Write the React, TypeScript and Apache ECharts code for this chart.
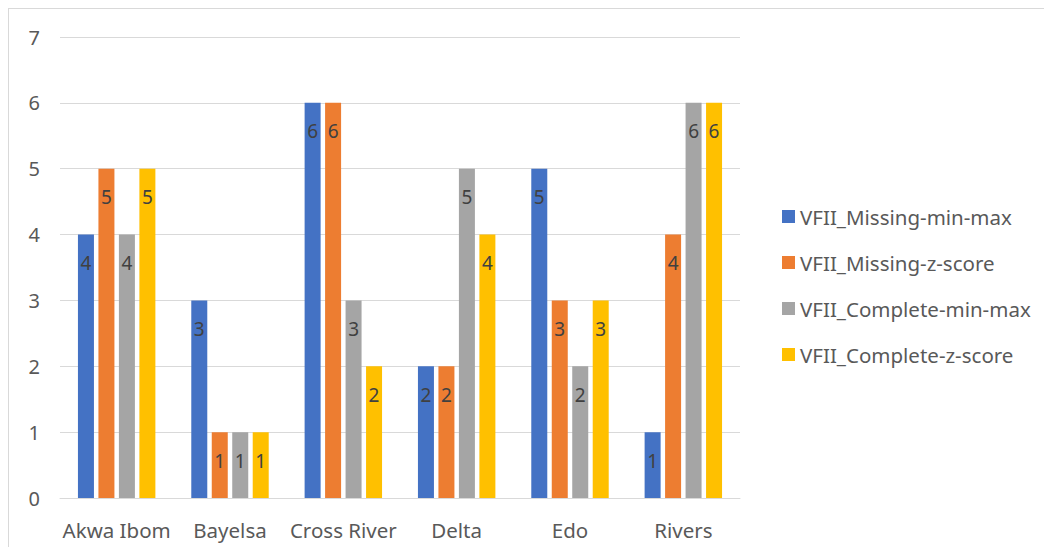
import React, { useEffect, useRef } from "react";
import * as echarts from "echarts";

const categories = ["Akwa Ibom", "Bayelsa", "Cross River", "Delta", "Edo", "Rivers"];
const seriesNames = [
  "VFII_Missing-min-max",
  "VFII_Missing-z-score",
  "VFII_Complete-min-max",
  "VFII_Complete-z-score",
];
const missingMinMax = [4, 3, 6, 2, 5, 1];
const missingZScore = [5, 1, 6, 2, 3, 4];
const completeMinMax = [4, 1, 3, 5, 2, 6];
const completeZScore = [5, 1, 2, 4, 3, 6];
const yTicks = [0, 1, 2, 3, 4, 5, 6, 7];

const colors = ["#4472C4", "#ED7D31", "#A5A5A5", "#FFC000"];
const FONT = "'Noto Sans', 'Open Sans', sans-serif";

export default function App() {
  const ref = useRef<HTMLDivElement>(null);

  useEffect(() => {
    if (!ref.current) return;
    const chart = echarts.init(ref.current, undefined, { renderer: "svg" });
    const values = [missingMinMax, missingZScore, completeMinMax, completeZScore];
    chart.setOption({
      animation: false,
      textStyle: { fontFamily: FONT },
      grid: { left: 51, top: 28, width: 680, height: 461, containLabel: false },
      legend: {
        orient: "vertical",
        left: 773,
        top: 197,
        padding: 0,
        itemWidth: 13,
        itemHeight: 13,
        itemGap: 25,
        icon: "rect",
        data: seriesNames,
        textStyle: { fontSize: 20.5, color: "#595959", fontFamily: FONT, lineHeight: 19 },
      },
      xAxis: {
        type: "category",
        data: categories,
        axisLine: { lineStyle: { color: "#d9d9d9", width: 1 } },
        axisTick: { show: false },
        axisLabel: { interval: 0, fontSize: 20.5, color: "#595959", margin: 21, fontFamily: FONT },
      },
      yAxis: {
        type: "value",
        min: yTicks[0],
        max: yTicks[yTicks.length - 1],
        interval: 1,
        axisLine: { show: false },
        axisTick: { show: false },
        axisLabel: { fontSize: 20, color: "#595959", margin: 20, fontFamily: FONT },
        splitLine: { lineStyle: { color: "#d9d9d9", width: 1 } },
      },
      series: seriesNames.map((name, i) => ({
        name,
        type: "bar",
        data: values[i],
        barWidth: 16,
        barGap: "28%",
        itemStyle: { color: colors[i] },
        label: {
          show: true,
          position: "insideTop",
          distance: 19,
          fontSize: 19,
          color: "#404040",
          fontFamily: FONT,
        },
      })),
    });
    return () => chart.dispose();
  }, []);

  return (
    <div
      style={{
        width: 1035,
        height: 538,
        borderTop: "1px solid #d9d9d9",
        borderLeft: "1px solid #d9d9d9",
        background: "#fff",
      }}
    >
      <div ref={ref} style={{ width: 1035, height: 538 }} />
    </div>
  );
}
